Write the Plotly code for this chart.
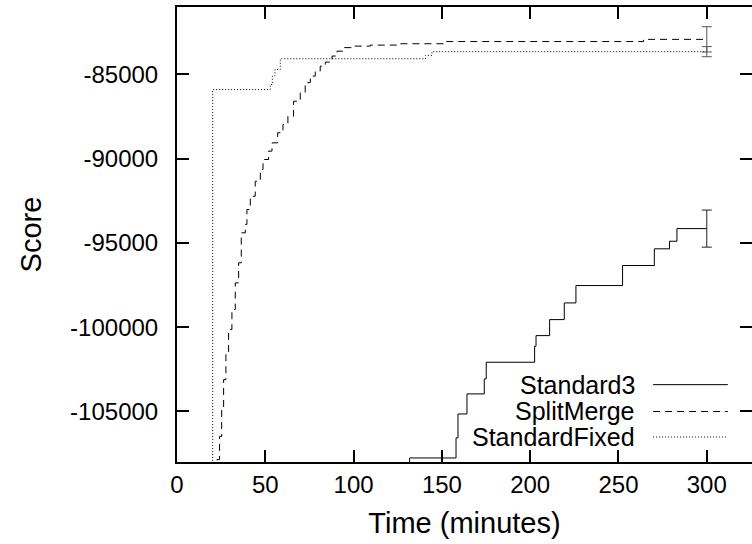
import plotly.graph_objects as go

# ---------------- data ----------------
std3_t = [125.0, 131.7, 158.0, 159.1, 164.2, 174.0, 175.1, 202.5, 203.3, 211.0, 219.3, 225.9, 252.3, 270.3, 278.9, 283.1, 300.0]
std3_s = [-112000, -107760, -106570, -105150, -103960, -103070, -102080, -101130, -100500, -99550, -98560, -97530, -96340, -95350, -94900, -94150, -94150]
std3_err = 1100

split_t = [21.0, 22.6, 24.1, 25.3, 26.4, 27.7, 29.2, 31.1, 33.0, 34.9, 36.4, 38.7, 39.6, 41.5, 44.3, 47.2,
           48.7, 51.9, 53.8, 57.0, 60.0, 62.8, 66.0, 69.8, 72.6, 75.5, 78.3, 81.1, 84.0, 87.8, 90.6, 94.3,
           100.0, 109.5, 124.6, 151.0, 264.2, 300.0]
split_s = [-112000, -107860, -106480, -104890, -103110, -101530, -100140, -98950, -97370, -96180, -94400, -93900,
           -93020, -92230, -91340, -90640, -90050, -89550, -89060, -88460, -87970, -87480, -86590, -86090,
           -85490, -85100, -84800, -84510, -84270, -83910, -83620, -83410, -83320, -83260, -83180, -83050,
           -82920, -82920]
split_err = 750

fixed_t = [20.0, 20.2, 52.8, 54.0, 55.5, 58.5, 140.7, 144.4, 300.0]
fixed_s = [-130000, -85900, -85600, -85100, -84700, -84070, -83870, -83650, -83650]
fixed_err = 300

x_ticks = [0, 50, 100, 150, 200, 250, 300]
y_ticks = [-85000, -90000, -95000, -100000, -105000]
y_tick_text = ["-85000", "-90000", "-95000", "-100000", "-105000"]
names = ["Standard3", "SplitMerge", "StandardFixed"]

FONT = "Liberation Sans, Arial, Helvetica, sans-serif"
FS = 24
INK = "#000000"

fig = go.Figure()
series = [
    (std3_t, std3_s, std3_err, "solid"),
    (split_t, split_s, split_err, "7px,5px"),
    (fixed_t, fixed_s, fixed_err, "1px,2px"),
]
for (t, s, e, dash), nm in zip(series, names):
    fig.add_trace(go.Scatter(x=t, y=s, mode="lines", line=dict(color=INK, width=1, dash=dash, shape="hv"),
                             name=nm, showlegend=False, hoverinfo="skip"))
    fig.add_trace(go.Scatter(x=[t[-1]], y=[s[-1]], mode="markers", marker=dict(size=1, opacity=0),
                             error_y=dict(type="constant", value=e, color="#222222" if dash == "solid" else "#555555",
                                          thickness=1, width=5),
                             showlegend=False, hoverinfo="skip"))

# invisible trace for right-side ticks axis
fig.add_trace(go.Scatter(x=[x_ticks[0]], y=[y_ticks[0]], yaxis="y2", mode="markers",
                         marker=dict(opacity=0), showlegend=False, hoverinfo="skip"))

# custom legend (text right-aligned, sample to the right)
leg_y = [0.170, 0.111, 0.055]
for nm, yy, (_, _, _, dash) in zip(names, leg_y, series):
    fig.add_annotation(xref="paper", yref="paper", x=0.7996, y=yy, text=nm, showarrow=False,
                       xanchor="right", yanchor="middle", font=dict(family=FONT, size=25, color=INK))
    fig.add_shape(type="line", xref="paper", yref="paper", x0=0.828, x1=0.958, y0=yy, y1=yy,
                  line=dict(color=INK, width=1, dash=dash))

yr = [-108000, -81000]
fig.update_layout(
    width=752, height=544,
    margin=dict(l=177, r=0, t=7, b=82),
    paper_bgcolor="white", plot_bgcolor="white",
    font=dict(family=FONT, size=FS, color=INK),
    xaxis=dict(range=[0, 325.6], tickvals=x_ticks, ticks="inside", ticklen=12, tickwidth=1.5,
               tickcolor=INK, showline=True, linecolor=INK, linewidth=2, mirror="ticks",
               showgrid=False, zeroline=False, title=dict(text="Time (minutes)", standoff=16),
               tickfont=dict(size=FS)),
    yaxis=dict(range=yr, tickvals=y_ticks, ticktext=y_tick_text, ticks="inside", ticklen=12, tickwidth=1.5,
               tickcolor=INK, showline=True, linecolor=INK, linewidth=2, mirror=False,
               showgrid=False, zeroline=False, ticklabelstandoff=12,
               title=dict(text="Score", standoff=20), tickfont=dict(size=FS)),
    yaxis2=dict(range=yr, tickvals=y_ticks, ticks="inside", ticklen=12, tickwidth=1.5, tickcolor=INK,
                overlaying="y", side="right", showticklabels=False, showline=False, showgrid=False,
                zeroline=False),
    showlegend=False,
)

fig.write_html("out.html")
